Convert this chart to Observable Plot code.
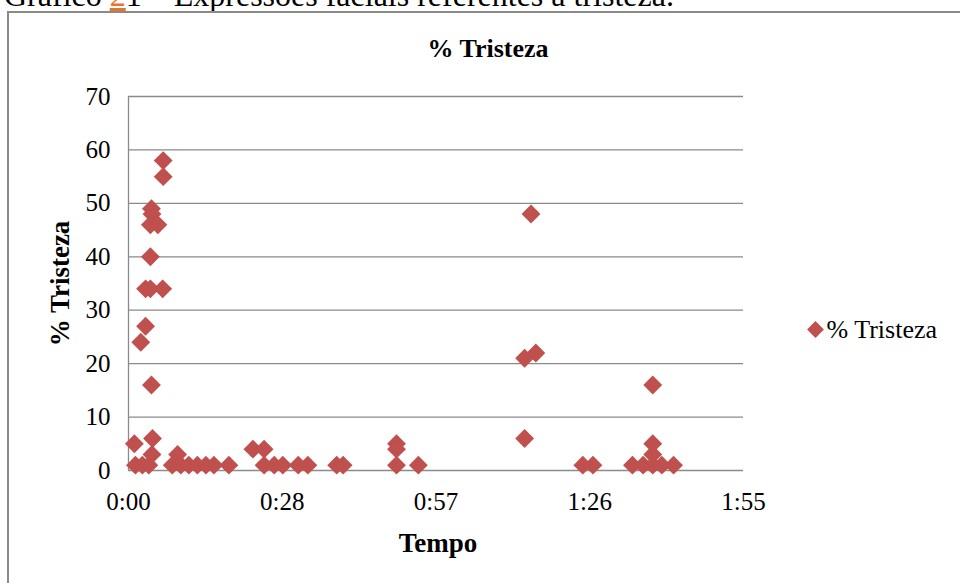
<!DOCTYPE html>
<html>
<head>
<meta charset="utf-8">
<script src="https://cdn.jsdelivr.net/npm/d3@7"></script>
<script src="https://cdn.jsdelivr.net/npm/@observablehq/plot@0.6"></script>
<style>
  html, body { margin: 0; padding: 0; background: #fff; overflow: hidden; width: 960px; height: 583px; }
  #header { position: absolute; left: 4px; top: -21px; font-family: "Liberation Serif", serif; font-size: 32px; line-height: 32px; white-space: nowrap; color: #000; }
  #header .ref { color: #e8742c; text-decoration: underline; }
  #frame { position: absolute; left: 7px; top: 11px; width: 1000px; height: 1000px; border: 2px solid #8a8a8a; }
  #chart { position: absolute; left: 0; top: 0; }
</style>
</head>
<body>
<div id="header">Gráfico <span class="ref">2</span>1 – Expressões faciais referentes à tristeza.</div>
<div id="frame"></div>
<div id="chart"></div>
<script>
// Time in minutes (axis shown as h:mm) and % sadness values
const minutes = [
  1.1, 1.3, 2.6, 3.8, 2.3, 3.2, 3.2, 4.1, 6.4, 4.1, 4.3, 4.4, 4.1, 5.5, 6.5, 6.5, 4.3, 4.5, 4.4,
  9.2, 8.2, 9.8, 11.3, 12.9, 14.5, 16.0, 18.8,
  23.3, 25.4, 25.4, 27.3, 28.9, 31.8, 33.6,
  39.0, 40.2, 50.2, 50.2, 50.2, 54.3,
  74.2, 76.3, 75.4, 74.2,
  85.1, 87.0, 94.4, 96.4, 98.2, 99.9, 102.1, 98.2, 98.2, 98.2
];
const tristeza = [
  5, 1, 1, 1, 24, 27, 34, 34, 34, 40, 49, 48, 46, 46, 58, 55, 16, 6, 3,
  3, 1, 1, 1, 1, 1, 1, 1,
  4, 4, 1, 1, 1, 1, 1,
  1, 1, 5, 4, 1, 1,
  21, 22, 48, 6,
  1, 1, 1, 1, 1, 1, 1, 16, 5, 3
];
const xTicks = [0, 28.8, 57.6, 86.4, 115.2];
const xTickLabels = ["0:00", "0:28", "0:57", "1:26", "1:55"];
const yTicks = [0, 10, 20, 30, 40, 50, 60, 70];
const seriesName = "% Tristeza";
const chartTitle = "% Tristeza";
const xTitle = "Tempo";
const yTitle = "% Tristeza";

const data = minutes.map((m, i) => ({ m, v: tristeza[i] }));
const red = "#C0504D";
const grid = "#8a8a8a";

const plot = Plot.plot({
  width: 960,
  height: 583,
  marginLeft: 128,
  marginRight: 217,
  marginTop: 96,
  marginBottom: 113,
  style: { fontFamily: "Liberation Serif, serif", fontSize: "25px", background: "transparent", overflow: "visible", color: "#000" },
  x: { domain: [0, 115.2] },
  y: { domain: [0, 70] },
  marks: [
    Plot.ruleY(yTicks, { stroke: grid, strokeWidth: 1.3 }),
    Plot.ruleX([0], { stroke: grid, strokeWidth: 1.3 }),
    Plot.axisY({ ticks: yTicks, tickSize: 0, tickPadding: 18, label: null, fontSize: 25 }),
    Plot.axisX({ ticks: xTicks, tickSize: 0, tickPadding: 22, label: null, fontSize: 25,
      tickFormat: d => xTickLabels[xTicks.indexOf(d)] }),
    Plot.dot(data, { x: "m", y: "v", symbol: "diamond2", r: 8.5, fill: red }),
    Plot.text([chartTitle], { frameAnchor: "top", lineAnchor: "middle", dx: 52, dy: -48, fontWeight: "bold", fontSize: 26 }),
    Plot.text([xTitle], { frameAnchor: "bottom", lineAnchor: "middle", dx: 2, dy: 73, fontWeight: "bold", fontSize: 27 }),
    Plot.text([yTitle], { frameAnchor: "left", textAnchor: "middle", lineAnchor: "middle", dx: -68, rotate: -90, fontWeight: "bold", fontSize: 27 }),
    Plot.dot([seriesName], { frameAnchor: "right", dx: 72, dy: 46, symbol: "diamond2", r: 7.6, fill: red }),
    Plot.text([seriesName], { frameAnchor: "right", lineAnchor: "middle", dx: 83, dy: 46, textAnchor: "start", fontSize: 26 })
  ]
});
document.getElementById("chart").appendChild(plot);
</script>
</body>
</html>
